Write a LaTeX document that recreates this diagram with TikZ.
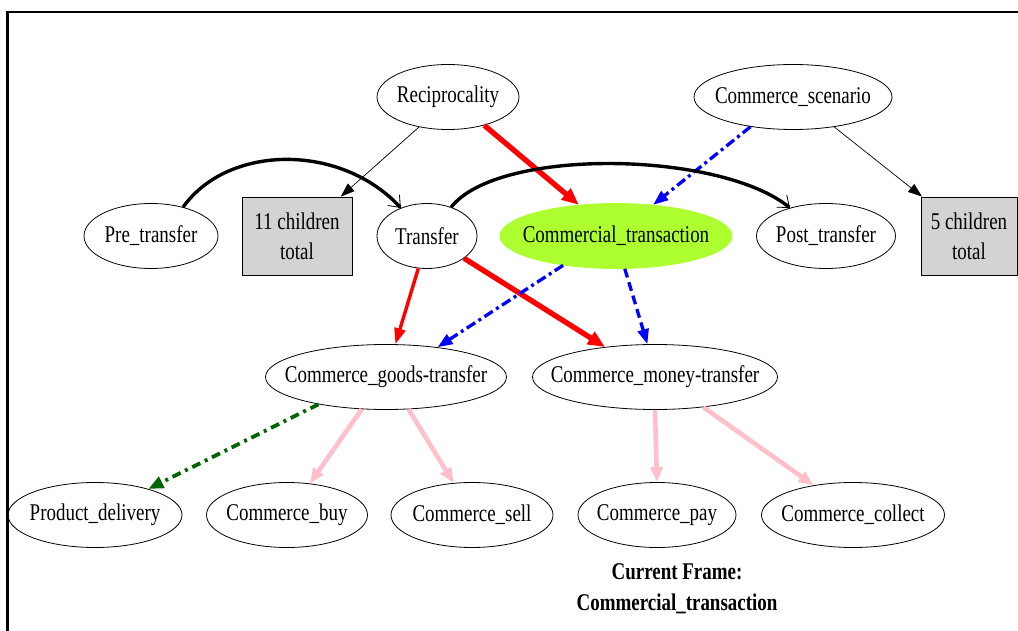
\documentclass[tikz,border=0pt]{standalone}
\usepackage{fontspec}
\setmainfont{Liberation Serif}[FakeStretch=0.79]
\usetikzlibrary{shapes.geometric,arrows.meta}
\definecolor{boxgray}{RGB}{211,211,211}
\definecolor{limefill}{RGB}{173,255,47}
\definecolor{pinkline}{RGB}{255,192,203}
\definecolor{darkgreenline}{RGB}{0,100,0}
% label set in a zero-width box so the ellipse keeps its given size
\newcommand{\ctrlabel}[1]{\makebox[0pt][c]{#1}}
\begin{document}
\begin{tikzpicture}[x=1pt,y=-1pt,
  frame/.style={ellipse,draw,line width=0.8pt,inner sep=0pt,minimum height=65pt,
    font=\fontsize{24}{30}\selectfont},
  countbox/.style={rectangle,draw,line width=0.8pt,fill=boxgray,inner sep=0pt,
    align=center,minimum height=78pt,font=\fontsize{24}{30}\selectfont},
  thinedge/.style={draw=black,line width=0.7pt,-{Triangle[length=14pt,width=10pt]}},
  redthick/.style={draw=red,line width=5.3pt,-{Triangle[length=17pt,width=14pt]}},
  redmid/.style={draw=red,line width=3.4pt,-{Triangle[length=16pt,width=11pt]}},
  bluedashdot/.style={draw=blue,line width=3.3pt,dash pattern=on 10pt off 4pt on 3pt off 4pt,
    -{Triangle[length=15pt,width=11pt]}},
  bluedash/.style={draw=blue,line width=3.3pt,dash pattern=on 9pt off 5pt,
    -{Triangle[length=15pt,width=11pt]}},
  greendash/.style={draw=darkgreenline,line width=3.8pt,dash pattern=on 9pt off 5pt on 3pt off 5pt,
    -{Triangle[length=15pt,width=12pt]}},
  pinkedge/.style={draw=pinkline,line width=4.6pt,-{Triangle[length=15pt,width=12pt]}},
  curvedge/.style={draw=black,line width=3.4pt,
    -{Straight Barb[length=10pt,width=16pt,line width=0.8pt]}},
  caption/.style={align=center,font=\fontsize{24}{31}\selectfont\bfseries}
]
\useasboundingbox (0,0) rectangle (1018,631);

% page frame
\draw[line width=2.5pt,line join=miter] (7.5,631) -- (7.5,12) -- (1018,12);

% top row
\node[frame,minimum width=142pt] (rec) at (448,97) {\ctrlabel{Reciprocality}};
\node[frame,minimum width=198pt] (cs) at (793,97) {\ctrlabel{Commerce\_scenario}};

% second row
\node[frame,minimum width=134pt] (pre) at (151,236) {\ctrlabel{Pre\_transfer}};
\node[countbox,minimum width=110pt] (b11) at (297,236) {11 children\\total};
\node[frame,minimum width=100pt] (tr) at (427,236) {\ctrlabel{Transfer}};
\node[frame,fill=limefill,draw=limefill,minimum width=232pt] (ct) at (616,236) {\ctrlabel{Commercial\_transaction}};
\node[frame,minimum width=139pt] (post) at (826,236) {\ctrlabel{Post\_transfer}};
\node[countbox,minimum width=96pt] (b5) at (969,236) {5 children\\total};

% third row
\node[frame,minimum width=241pt] (goods) at (386,377) {\ctrlabel{Commerce\_goods-transfer}};
\node[frame,minimum width=245pt] (money) at (655,377) {\ctrlabel{Commerce\_money-transfer}};

% bottom row
\node[frame,minimum width=174pt] (pd) at (95,515) {\ctrlabel{Product\_delivery}};
\node[frame,minimum width=161pt] (buy) at (287,515) {\ctrlabel{Commerce\_buy}};
\node[frame,minimum width=162pt] (sell) at (472,515) {\ctrlabel{Commerce\_sell}};
\node[frame,minimum width=158pt] (pay) at (657,515) {\ctrlabel{Commerce\_pay}};
\node[frame,minimum width=183pt] (coll) at (853,515) {\ctrlabel{Commerce\_collect}};

\node[caption] (cap) at (677,589) {Current Frame:\\Commercial\_transaction};

% connectors
\draw[thinedge] (rec.226) -- (b11.42);
\draw[redthick] (rec.322) -- (ct.140);
\draw[bluedashdot] (cs.215) -- (ct.40);
\draw[thinedge] (cs.324) -- (b5.140);

\draw[curvedge] (pre.42) .. controls +(45,-63) and +(-60,-65) .. (tr.133);
\draw[curvedge] (tr.50) .. controls +(47,-60) and +(-70,-57) .. (post.142);

\draw[redmid] (tr.255) -- (goods.74);
\draw[redthick] (tr.329) -- (money.149);
\draw[bluedashdot] (ct.209) -- (goods.30);
\draw[bluedash] (ct.285) -- (money.103);

\draw[greendash] (goods.202) -- (pd.26);
\draw[pinkedge] (goods.233) -- (buy.54);
\draw[pinkedge] (goods.305) -- (sell.120);
\draw[pinkedge] (money.270) -- (pay.90);
\draw[pinkedge] (money.328) -- (coll.143);
\end{tikzpicture}
\end{document}
